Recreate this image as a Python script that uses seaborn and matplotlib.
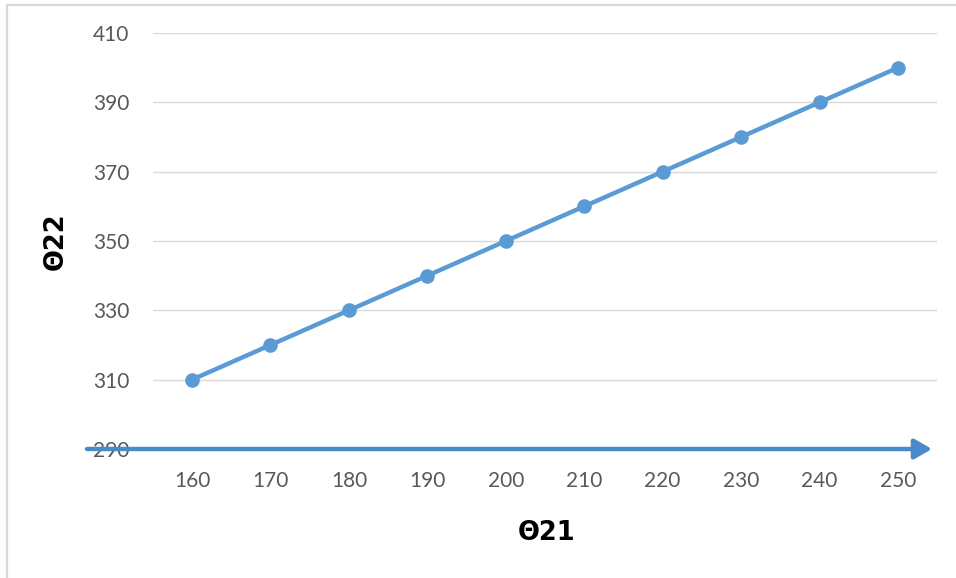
import matplotlib
matplotlib.use("Agg")
import matplotlib.pyplot as plt
from matplotlib.lines import Line2D
import seaborn as sns
import pandas as pd

# Data
theta21 = [160, 170, 180, 190, 200, 210, 220, 230, 240, 250]
theta22 = [310, 320, 330, 340, 350, 360, 370, 380, 390, 400]
y_ticks = [290, 310, 330, 350, 370, 390, 410]

sns.set_theme(style="white")
plt.rcParams["font.family"] = ["Lato", "DejaVu Sans"]

W, H = 956, 578
fig = plt.figure(figsize=(W / 100, H / 100), dpi=100)
fig.patch.set_facecolor("white")

# plot area in pixel coordinates
left_px, right_px, top_px, bottom_px = 152.8, 937.2, 33, 449
ax = fig.add_axes([left_px / W, 1 - bottom_px / H,
                   (right_px - left_px) / W, (bottom_px - top_px) / H])

df = pd.DataFrame({"pos": range(len(theta21)), "theta22": theta22})
line_color = "#5B9BD5"
sns.lineplot(data=df, x="pos", y="theta22", ax=ax, color=line_color,
             linewidth=3.2, marker="o", markersize=10.5,
             markeredgewidth=0, zorder=3)

ax.set_xlim(-0.5, len(theta21) - 0.5)
ax.set_ylim(290, 410)
ax.set_xticks(range(len(theta21)))
ax.set_xticklabels([str(v) for v in theta21])
ax.set_yticks(y_ticks)
ax.set_yticklabels([str(v) for v in y_ticks])
ax.tick_params(axis="both", length=0, labelsize=15, labelcolor="#595959")
ax.tick_params(axis="y", pad=17)
ax.tick_params(axis="x", pad=16)
ax.set_xlabel("")
ax.set_ylabel("")

ax.grid(axis="y", color="#D9D9D9", linewidth=1.0)
ax.grid(axis="x", visible=False)
for s in ax.spines.values():
    s.set_visible(False)

# horizontal axis arrow along the bottom
x0 = (87 - left_px) / (right_px - left_px)
x1 = (932 - left_px) / (right_px - left_px)
ax.annotate("", xy=(x1, 0), xytext=(x0, 0),
            xycoords="axes fraction", textcoords="axes fraction",
            arrowprops=dict(arrowstyle="-|>,head_length=1.05,head_width=0.6",
                            mutation_scale=10, lw=3.2, color="#4A8ACB",
                            shrinkA=0, shrinkB=0),
            annotation_clip=False, zorder=5)

# axis titles
title_font = dict(family=["DejaVu Sans"], fontsize=18.5,
                  fontweight="bold", color="black")
fig.text(547 / W, 1 - 533 / H, "Θ21", ha="center", va="center", **title_font)
fig.text(56 / W, 1 - 241 / H, "Θ22", ha="center", va="center",
         rotation=90, **title_font)

# chart frame (left and top edges)
frame = "#D9D9D9"
fig.add_artist(Line2D([6.5 / W, 6.5 / W], [0, 1 - 5 / H],
                      transform=fig.transFigure, color=frame, lw=1.6))
fig.add_artist(Line2D([6.5 / W, 1], [1 - 5 / H, 1 - 5 / H],
                      transform=fig.transFigure, color=frame, lw=1.6))

fig.savefig("out.png", dpi=100, facecolor="white")
